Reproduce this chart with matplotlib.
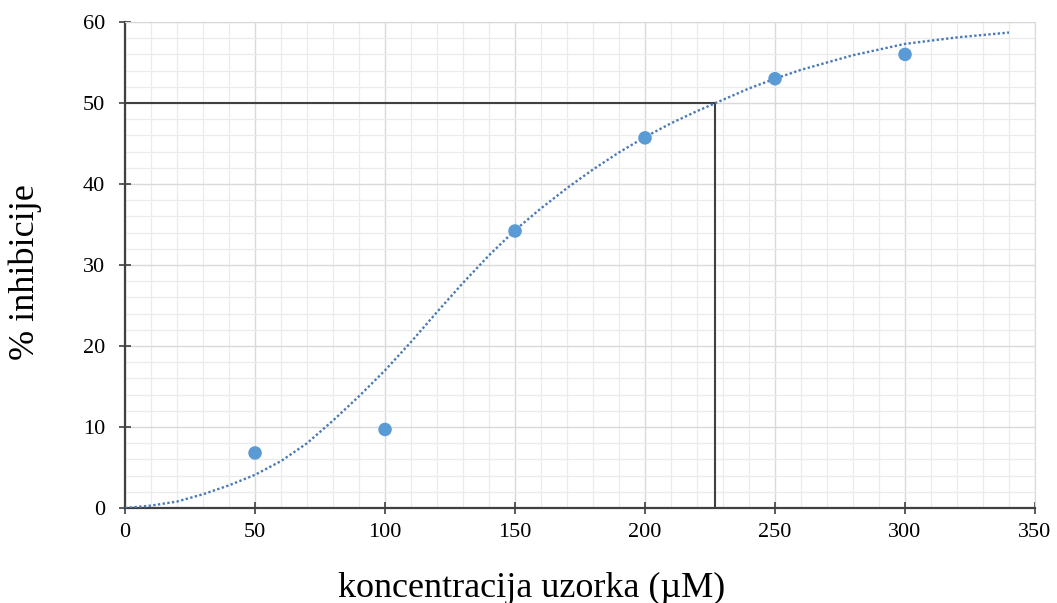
import matplotlib
matplotlib.use('Agg')
import matplotlib.pyplot as plt
from matplotlib.ticker import MultipleLocator

# izmjerene tocke
konc = [50, 100, 150, 200, 250, 300]
inhib = [6.8, 9.7, 34.2, 45.7, 53.0, 56.0]

# krivulja (ocitano sa slike)
fit_x = [0, 10, 20, 30, 40, 50, 60, 70, 80, 90, 100, 110, 120, 130, 140, 150, 160, 170,
         180, 190, 200, 210, 220, 230, 240, 250, 260, 270, 280, 290, 300, 310, 320, 330, 340]
fit_y = [0.0, 0.3, 0.8, 1.7, 2.8, 4.1, 5.8, 8.0, 10.8, 13.8, 17.0, 20.5, 24.2, 27.8, 31.2,
         34.3, 37.0, 39.5, 41.8, 43.9, 45.8, 47.5, 49.0, 50.4, 51.8, 53.0, 54.1, 55.0, 55.9,
         56.6, 57.3, 57.7, 58.1, 58.4, 58.7]

ic50 = 227
ic50_y = 50

plt.rcParams['font.family'] = ['Liberation Serif', 'DejaVu Serif']

fig = plt.figure(figsize=(10.57, 6.03), dpi=100)
ax = fig.add_axes([0.1183, 0.1575, 0.8609, 0.806])

ax.set_xlim(0, 350)
ax.set_ylim(0, 60)
ax.xaxis.set_major_locator(MultipleLocator(50))
ax.xaxis.set_minor_locator(MultipleLocator(10))
ax.yaxis.set_major_locator(MultipleLocator(10))
ax.yaxis.set_minor_locator(MultipleLocator(2))
ax.grid(which='major', color='#d9d9d9', lw=1.0)
ax.grid(which='minor', color='#ebebeb', lw=0.9)
ax.set_axisbelow(True)

for s in ['top', 'right']:
    ax.spines[s].set_color('#d9d9d9')
for s in ['left', 'bottom']:
    ax.spines[s].set_color('#404040')
    ax.spines[s].set_linewidth(1.6)

ax.tick_params(which='major', direction='inout', length=9, width=1.2, color='#404040',
               labelsize=16, pad=6)
ax.tick_params(which='minor', length=0)
ax.tick_params(axis='y', pad=10)

ax.plot(fit_x, fit_y, color='#4a7ab5', lw=1.7, linestyle=(0, (1, 1)), zorder=3)
ax.plot([0, ic50], [ic50_y, ic50_y], color='#404040', lw=1.5, zorder=2)
ax.plot([ic50, ic50], [0, ic50_y], color='#404040', lw=1.5, zorder=2)
ax.scatter(konc, inhib, s=95, color='#5b9bd5', zorder=4, edgecolors='none')

fig.text(0.503, 0.024, 'koncentracija uzorka (µM)', fontsize=26, ha='center', va='center')
fig.text(0.024, 0.549, '% inhibicije', fontsize=26, ha='center', va='center', rotation=90)

fig.savefig('out.png', dpi=100)
